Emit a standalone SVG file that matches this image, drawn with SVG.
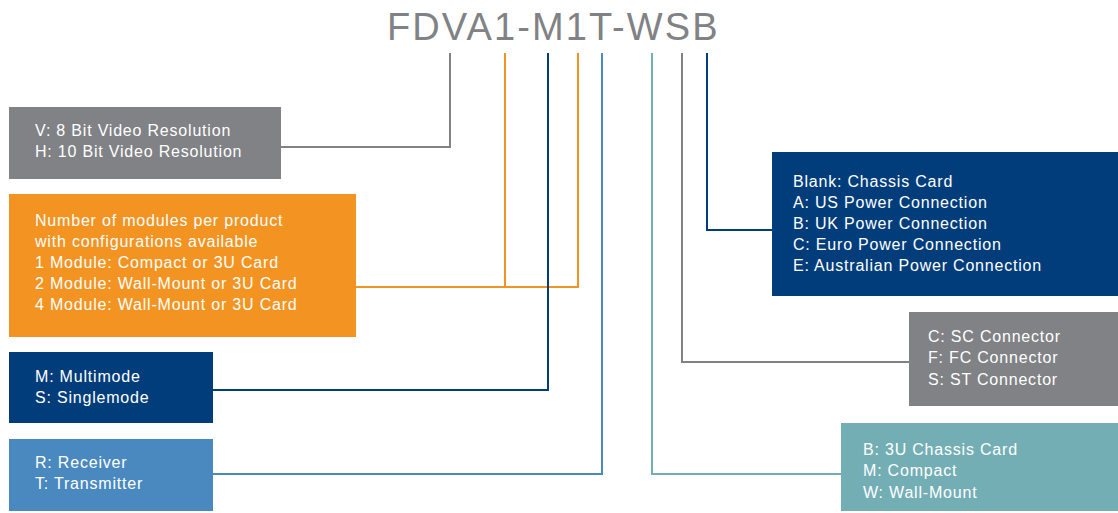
<svg xmlns="http://www.w3.org/2000/svg" width="1118" height="513" viewBox="0 0 1118 513">
<style>
.t{font-family:"Liberation Sans",Arial,sans-serif;font-size:16px;letter-spacing:0.8px;fill:#ffffff}
.c{fill:none;stroke-width:2}
.gray{fill:#808285}.orange{fill:#F39321}.navy{fill:#023D7B}.blue{fill:#4A89BF}.teal{fill:#74AEB5}
</style>
<rect width="1118" height="513" fill="#ffffff"/>
<text x="387" y="40" font-family="Liberation Sans,Arial,sans-serif" font-size="38" letter-spacing="2.1" fill="#808285">FDVA1-M1T-WSB</text>
<g id="connectors">
<polyline class="c" stroke="#808285" points="450,53 450,147 281,147"/>
<polyline class="c" stroke="#F39321" points="505,53 505,287 356,287"/>
<polyline class="c" stroke="#F39321" points="578,53 578,287 505,287"/>
<polyline class="c" stroke="#023D7B" points="548,53 548,390 213,390"/>
<polyline class="c" stroke="#4A89BF" points="602,53 602,474 213,474"/>
<polyline class="c" stroke="#74AEB5" points="652,53 652,474 841,474"/>
<polyline class="c" stroke="#808285" points="682,53 682,362 909,362"/>
<polyline class="c" stroke="#023D7B" points="707,53 707,230 772,230"/>
</g>
<g id="node-resolution">
<rect class="gray" x="9" y="107" width="272" height="72"/>
<text class="t" x="35" y="136">V: 8 Bit Video Resolution</text>
<text class="t" x="35" y="157">H: 10 Bit Video Resolution</text>
</g>
<g id="node-modules">
<rect class="orange" x="9" y="194" width="347" height="143"/>
<text class="t" x="35" y="226">Number of modules per product</text>
<text class="t" x="35" y="247">with configurations available</text>
<text class="t" x="35" y="268">1 Module: Compact or 3U Card</text>
<text class="t" x="35" y="289">2 Module: Wall-Mount or 3U Card</text>
<text class="t" x="35" y="310">4 Module: Wall-Mount or 3U Card</text>
</g>
<g id="node-mode">
<rect class="navy" x="9" y="352" width="204" height="71"/>
<text class="t" x="35" y="382">M: Multimode</text>
<text class="t" x="35" y="403">S: Singlemode</text>
</g>
<g id="node-direction">
<rect class="blue" x="9" y="439" width="204" height="72"/>
<text class="t" x="35" y="468">R: Receiver</text>
<text class="t" x="35" y="489">T: Transmitter</text>
</g>
<g id="node-power">
<rect class="navy" x="772" y="152" width="346" height="144"/>
<text class="t" x="793" y="187">Blank: Chassis Card</text>
<text class="t" x="793" y="208">A: US Power Connection</text>
<text class="t" x="793" y="229">B: UK Power Connection</text>
<text class="t" x="793" y="250">C: Euro Power Connection</text>
<text class="t" x="793" y="271">E: Australian Power Connection</text>
</g>
<g id="node-connector">
<rect class="gray" x="909" y="312" width="209" height="94"/>
<text class="t" x="928" y="342">C: SC Connector</text>
<text class="t" x="928" y="363">F: FC Connector</text>
<text class="t" x="928" y="385">S: ST Connector</text>
</g>
<g id="node-housing">
<rect class="teal" x="841" y="423" width="277" height="88"/>
<text class="t" x="863" y="455">B: 3U Chassis Card</text>
<text class="t" x="863" y="476">M: Compact</text>
<text class="t" x="863" y="498">W: Wall-Mount</text>
</g>
</svg>
